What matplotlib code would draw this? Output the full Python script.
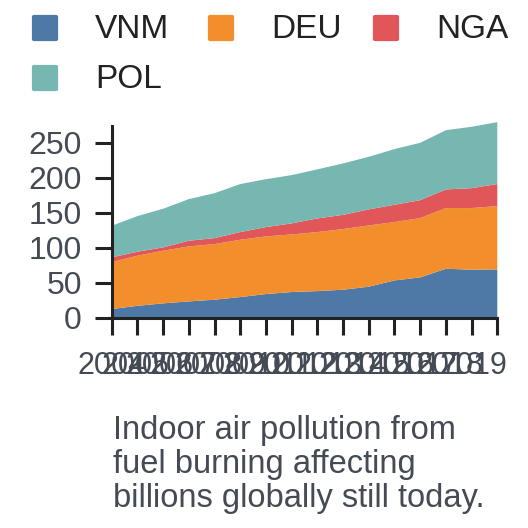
import numpy as np
import matplotlib.pyplot as plt
from matplotlib.patches import FancyBboxPatch

plt.rcParams['font.family'] = ['Liberation Sans', 'DejaVu Sans']

years = list(range(2004, 2020))
vnm = [12.4, 17, 20.5, 23.3, 25.7, 29.5, 33.8, 36.7, 38, 40, 44.3, 53.3, 57.6, 70, 68.6, 69]
deu = [67.1, 71.6, 75.2, 78.6, 79.5, 81.9, 82.4, 82.3, 84.4, 86.7, 87.6, 83.4, 84.8, 86.7, 88.1, 90.5]
nga = [6.7, 5.7, 4.8, 8.1, 8.6, 11, 13.3, 15.8, 19.5, 20.3, 22.9, 24.7, 25.6, 26.6, 28.5, 31.5]
pol = [45.2, 50.9, 55.2, 59.5, 64.2, 68.6, 68.5, 69, 70.1, 73.5, 75.2, 79.6, 82, 84.7, 87.7, 88.5]
labels = ['VNM', 'DEU', 'NGA', 'POL']
colors = ['#4e79a7', '#f28e2b', '#e15759', '#76b7b2']
yticks = [0, 50, 100, 150, 200, 250]
caption = "Indoor air pollution from\nfuel burning affecting\nbillions globally still today."

W = H = 528
fig = plt.figure(figsize=(W / 100, H / 100), dpi=100)
ax = fig.add_axes([111.7 / W, 1 - 317.7 / H, 385.6 / W, 191.7 / H])

polys = ax.stackplot(years, vnm, deu, nga, pol, colors=colors)
for p in polys:
    p.set_clip_on(False)
    p.set_linewidth(0)

ax.set_xlim(years[0], years[-1])
ax.set_ylim(0, 274)

# tick marks on every year, labels spread a little tighter (as in the source chart)
ax.xaxis.remove_overlapping_locs = False
ax.set_xticks(years)
ax.set_xticklabels([])
n = len(years)
lab_pos = [years[0] + i * (years[-1] - years[0]) / n for i in range(n)]
ax.set_xticks(lab_pos, minor=True)
ax.set_xticklabels([str(y) for y in years], minor=True)
ax.tick_params(axis='x', which='minor', length=0, pad=24, labelsize=22, labelcolor='#444b55')

ax.set_yticks(yticks)

for s in ['top', 'right']:
    ax.spines[s].set_visible(False)
for s in ['left', 'bottom']:
    ax.spines[s].set_linewidth(2.2)
    ax.spines[s].set_color('#222222')
ax.tick_params(axis='both', which='major', length=12.5, width=2.2, color='#222222',
               labelsize=23, labelcolor='#444b55')
ax.tick_params(axis='y', pad=9)

# legend, three per row
col_x = [32, 208, 373]
for i, (lab, c) in enumerate(zip(labels, colors)):
    x0 = col_x[i % 3]
    yc = 28 + 50 * (i // 3)
    fig.patches.append(FancyBboxPatch(((x0 + 2) / W, 1 - (yc + 11) / H), 22 / W, 22 / H,
                                      boxstyle='round,pad=0.004', transform=fig.transFigure,
                                      facecolor=c, edgecolor='none'))
    fig.text((x0 + 63) / W, 1 - (yc + 1) / H, lab, fontsize=24, color='#222222',
             ha='left', va='center')

fig.text(113 / W, 1 - 415 / H, caption, fontsize=23.5, color='#444b55',
         ha='left', va='top', linespacing=1.13)

fig.savefig('out.png', dpi=100)
